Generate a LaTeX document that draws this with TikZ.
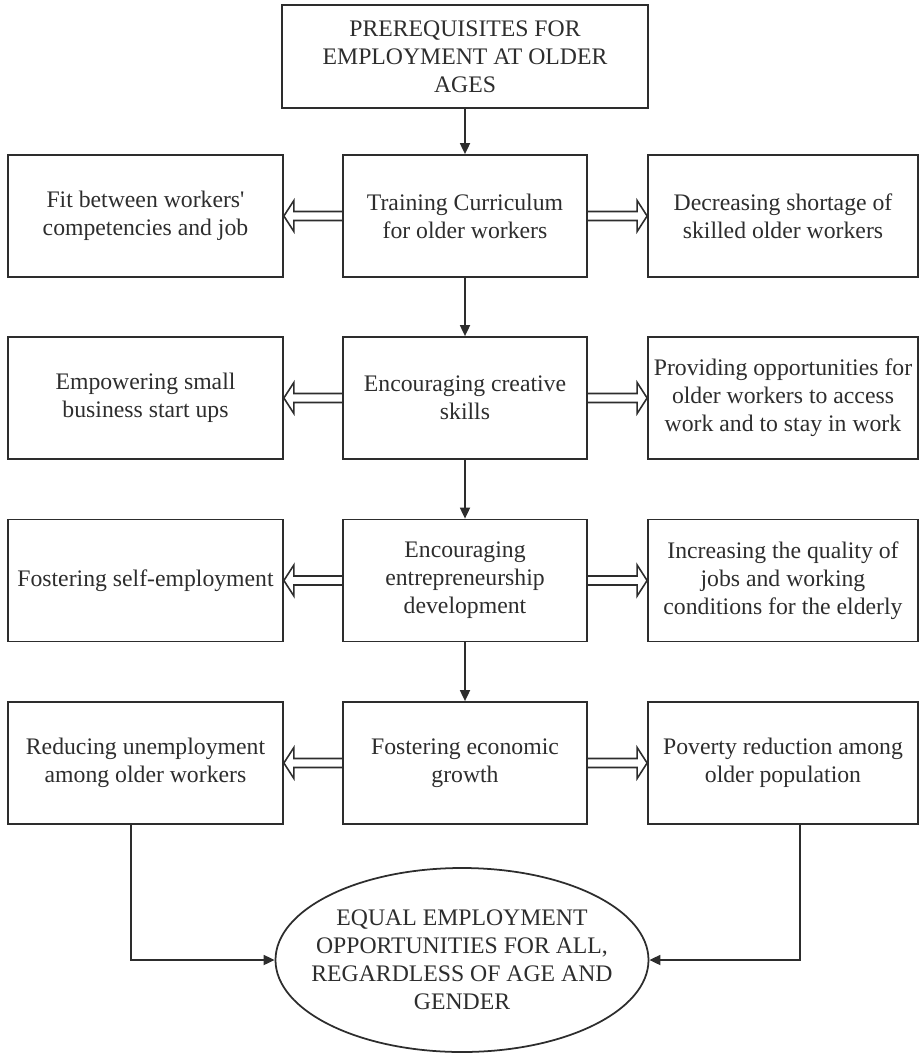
\documentclass[tikz,border=0pt]{standalone}
\usepackage{fontspec}
\setmainfont{Liberation Serif}[Ligatures=TeXOff]
\usepackage{xcolor}
\definecolor{inkgray}{RGB}{45,45,45}
\usetikzlibrary{arrows.meta,positioning,shapes.geometric,calc}

\tikzset{
  box/.style={draw=inkgray, line width=1pt, align=center, text=inkgray,
              font=\fontsize{13.5}{16}\selectfont, inner sep=2pt},
  midbox/.style={box, minimum width=4.88cm, minimum height=2.44cm},
  sidebox/.style={box, minimum width=5.5cm, minimum height=2.44cm},
  rightbox/.style={box, minimum width=5.4cm, minimum height=2.44cm},
  downarr/.style={draw=inkgray, line width=1pt, -{Triangle[length=0.22cm, width=0.2cm]}},
}

\newcommand{\hollowarrow}[2]{%
  \coordinate (ha) at ($(#2)!0.2cm!(#1)$);
  \draw[draw=inkgray, line width=0.9pt, line join=miter]
    ($(#1)!0.09cm!90:(#2)$) -- ($(ha)!0.09cm!-90:(#1)$) -- ($(ha)!0.31cm!-90:(#1)$)
    -- (#2) -- ($(ha)!0.31cm!90:(#1)$) -- ($(ha)!0.09cm!90:(#1)$) -- ($(#1)!0.09cm!-90:(#2)$);}

\begin{document}
\begin{tikzpicture}
  \useasboundingbox (0,0) rectangle (18.4,-21.06);

  %% Top box
  \node[box, minimum width=7.32cm, minimum height=2.06cm] (top) at (9.3,-1.13)
    {PREREQUISITES FOR\\EMPLOYMENT AT OLDER\\AGES};

  %% Middle column
  \node[midbox] (m1) at (9.3,-4.32)  {Training Curriculum\\for older workers};
  \node[midbox] (m2) at (9.3,-7.96)  {Encouraging creative\\skills};
  \node[midbox] (m3) at (9.3,-11.61) {Encouraging\\entrepreneurship\\development};
  \node[midbox] (m4) at (9.3,-15.26) {Fostering economic\\growth};

  %% Left column
  \node[sidebox] (l1) at (2.91,-4.32)  {Fit between workers'\\competencies and job};
  \node[sidebox] (l2) at (2.91,-7.96)  {Empowering small\\business start ups};
  \node[sidebox] (l3) at (2.91,-11.61) {Fostering self-employment};
  \node[sidebox] (l4) at (2.91,-15.26) {Reducing unemployment\\among older workers};

  %% Right column
  \node[rightbox] (r1) at (15.66,-4.32)  {Decreasing shortage of\\skilled older workers};
  \node[rightbox] (r2) at (15.66,-7.96)  {Providing opportunities for\\older workers to access\\work and to stay in work};
  \node[rightbox] (r3) at (15.66,-11.61) {Increasing the quality of\\jobs and working\\conditions for the elderly};
  \node[rightbox] (r4) at (15.66,-15.26) {Poverty reduction among\\older population};

  %% Goal
  \node[ellipse, draw=inkgray, line width=1pt, minimum width=7.46cm, minimum height=3.68cm,
        label={[align=center, text=inkgray, font=\fontsize{13.5}{16}\selectfont]center:
          EQUAL EMPLOYMENT\\OPPORTUNITIES FOR ALL,\\REGARDLESS OF AGE AND\\GENDER}]
    (goal) at (9.24,-19.2) {};

  %% Vertical arrows
  \draw[downarr] (top) -- (m1);
  \draw[downarr] (m1) -- (m2);
  \draw[downarr] (m2) -- (m3);
  \draw[downarr] (m3) -- (m4);

  %% Hollow side arrows
  \foreach \r in {1,2,3,4} {
    \hollowarrow{m\r.west}{l\r.east}
    \hollowarrow{m\r.east}{r\r.west}
  }

  %% Into the goal
  \draw[downarr] ([xshift=-0.29cm]l4.south) |- (goal.west);
  \draw[downarr] ([xshift=0.34cm]r4.south) |- (goal.east);
\end{tikzpicture}
\end{document}
